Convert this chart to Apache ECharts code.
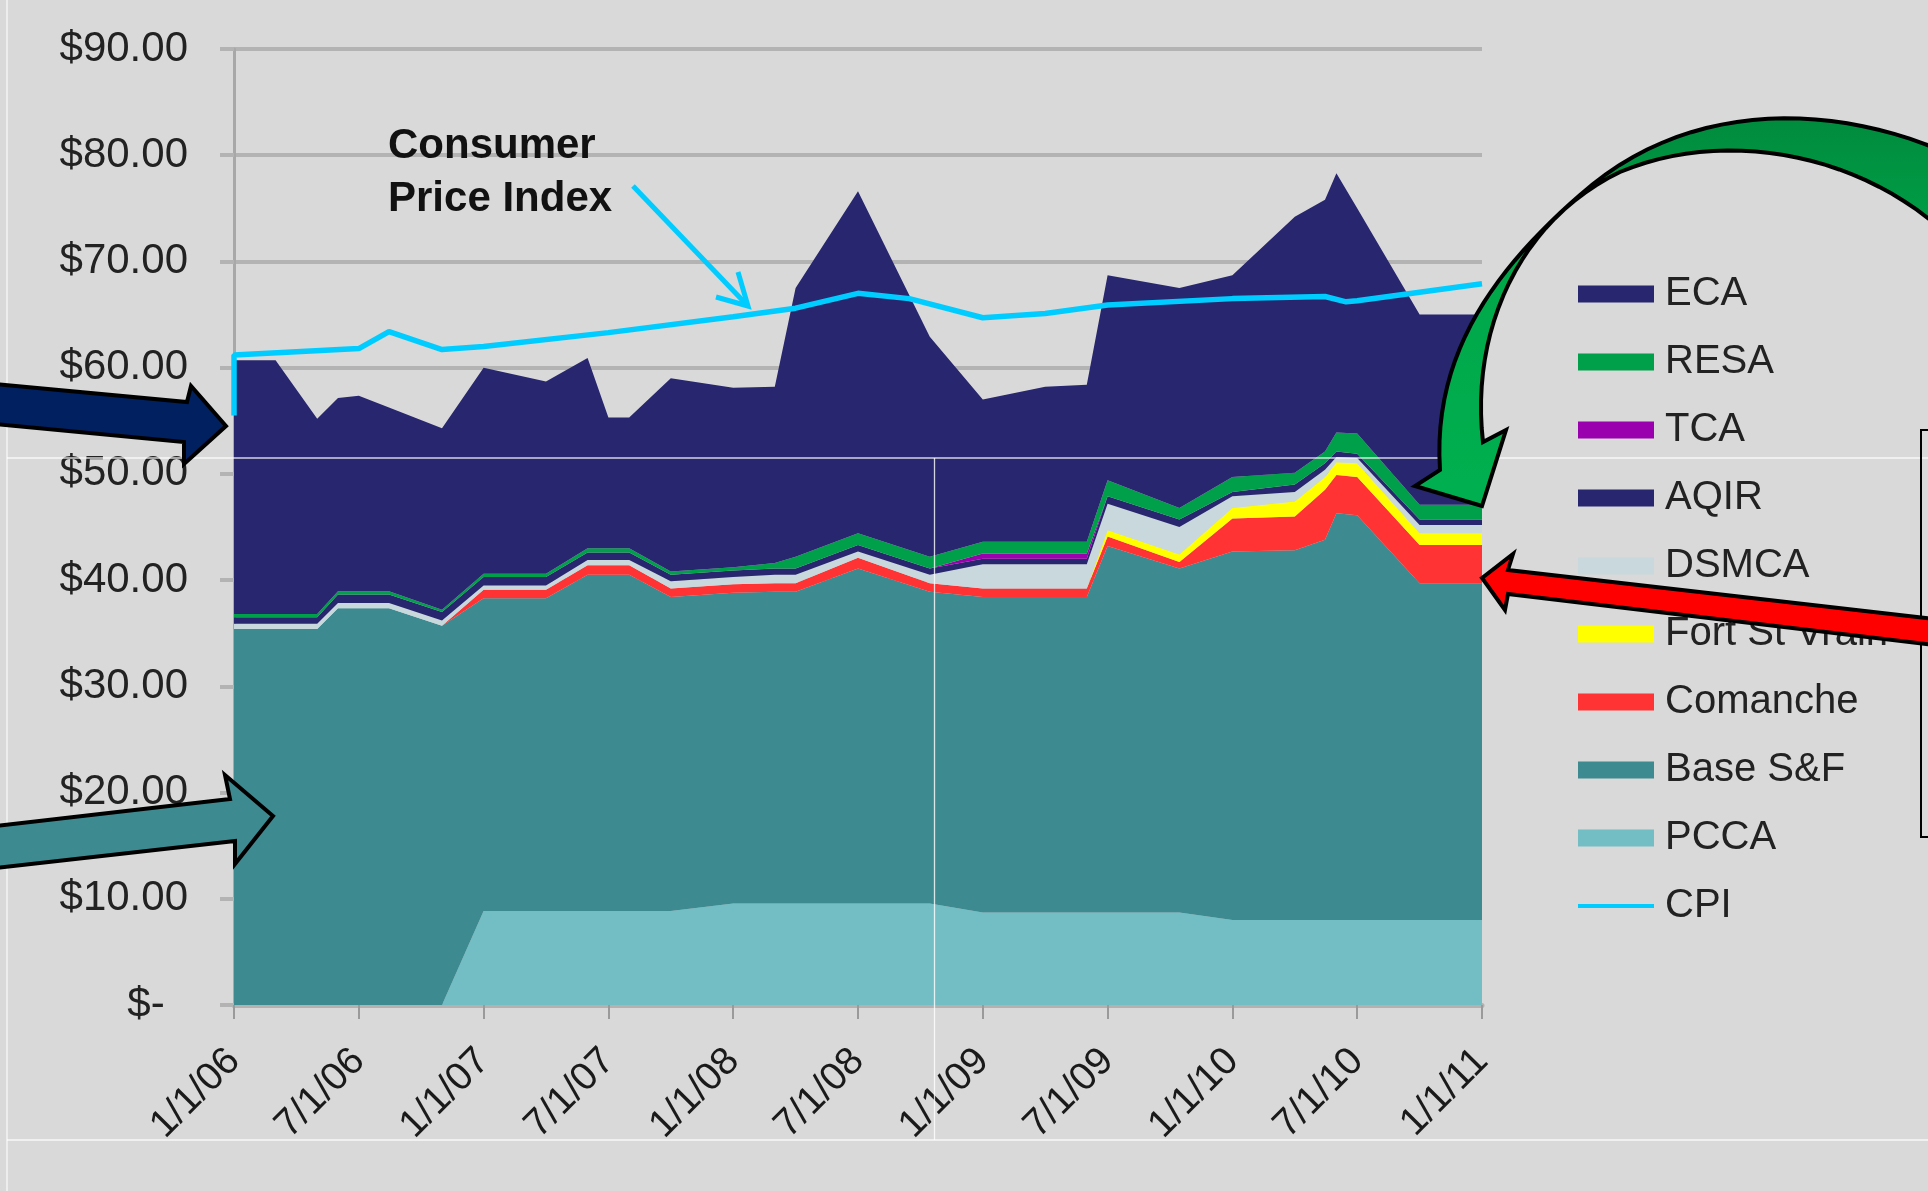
<!DOCTYPE html>
<html>
<head>
<meta charset="utf-8">
<script src="https://cdn.jsdelivr.net/npm/echarts@6/dist/echarts.min.js"></script>
<style>
html,body{margin:0;padding:0;background:#D9D9D9;}
#chart{width:1928px;height:1191px;}
</style>
</head>
<body>
<div id="chart"></div>
<script>
// ---------- DATA ----------
const dates = ['2006-01-01','2006-03-01','2006-05-01','2006-06-01','2006-07-01','2006-08-15','2006-11-01',
  '2007-01-01','2007-04-01','2007-06-01','2007-07-01','2007-08-01','2007-10-01',
  '2008-01-01','2008-03-01','2008-04-01','2008-07-01','2008-10-15',
  '2009-01-01','2009-04-01','2009-06-01','2009-07-01','2009-10-15',
  '2010-01-01','2010-04-01','2010-05-15','2010-06-01','2010-07-01','2010-10-01','2011-01-01'];

const pcca        = [0,0,0,0,0,0,0, 8.85,8.85,8.85,8.85,8.85,8.85, 9.55,9.55,9.55,9.55,9.55, 8.7,8.7,8.7,8.7,8.7, 8.0,8.0,8.0,8.0,8.0,8.0,8.0];
const baseSF      = [35.4,35.4,35.4,37.35,37.35,37.35,35.7, 29.45,29.45,31.65,31.65,31.65,29.55, 29.25,29.35,29.35,31.55,29.35, 29.7,29.7,29.7,34.5,32.4, 34.7,34.8,35.8,38.3,38.1,31.7,31.7];
const comanche    = [0,0,0,0,0,0,0, 0.8,0.8,0.9,0.9,0.9,0.8, 0.8,0.8,0.8,1.0,0.8, 0.8,0.8,0.8,0.9,0.6, 3.1,3.2,4.7,3.6,3.6,3.6,3.6];
const fortStVrain = [0,0,0,0,0,0,0, 0,0,0,0,0,0, 0,0,0,0,0, 0,0,0,0.6,0.7, 1.0,1.4,1.2,1.2,1.3,1.1,1.1];
const dsmca       = [0.5,0.5,0.5,0.5,0.5,0.5,0.5, 0.4,0.4,0.5,0.5,0.5,0.7, 0.7,0.8,0.8,0.6,0.8, 2.3,2.3,2.3,2.5,2.6, 1.1,0.9,0.7,0.5,0.5,0.8,0.8];
const aqir        = [0.6,0.6,0.6,0.8,0.8,0.8,0.8, 0.8,0.8,0.7,0.7,0.7,0.6, 0.6,0.6,0.6,0.6,0.6, 0.5,0.5,0.5,0.7,0.7, 0.4,0.7,0.6,0.5,0.4,0.5,0.5];
const tca         = [0,0,0,0,0,0,0, 0,0,0,0,0,0, 0,0,0,0,0, 0.5,0.5,0.5,0,0, 0,0,0,0,0,0,0];
const resa        = [0.3,0.3,0.3,0.3,0.3,0.3,0.2, 0.3,0.3,0.4,0.4,0.4,0.3, 0.3,0.5,1.1,1.1,1.1, 1.1,1.1,1.1,1.5,1.1, 1.4,1.1,1.1,1.8,1.9,1.4,1.4];
const eca         = [23.9,23.9,18.4,18.2,18.4,17.3,17.1, 19.4,18.1,17.9,12.3,12.3,18.2, 16.9,16.6,25.3,32.2,20.7, 13.4,14.6,14.8,19.3,20.7, 19.0,24.1,23.7,24.4,21.2,17.9,17.9];

const cpiDates  = ['2006-01-01','2006-01-01','2006-07-01','2006-08-15','2006-11-01','2007-01-01','2007-07-01','2008-01-01','2008-04-01','2008-07-01','2008-09-15','2009-01-01','2009-04-01','2009-07-01','2010-01-01','2010-05-15','2010-06-15','2010-07-01','2011-01-01'];
const cpiValues = [55.5,61.2,61.8,63.4,61.7,62.0,63.3,64.8,65.6,67.0,66.5,64.7,65.1,65.9,66.5,66.7,66.2,66.3,67.9];

const xTickLabels = ['1/1/06','7/1/06','1/1/07','7/1/07','1/1/08','7/1/08','1/1/09','7/1/09','1/1/10','7/1/10','1/1/11'];
const yTickLabels = ['$-  ','$10.00','$20.00','$30.00','$40.00','$50.00','$60.00','$70.00','$80.00','$90.00'];
const legendOrder = ['ECA','RESA','TCA','AQIR','DSMCA','Fort St Vrain','Comanche','Base S&F','PCCA','CPI'];

// ---------- BUILD ----------
const FONT = "'Liberation Sans', Arial, Helvetica, sans-serif";
const colors = {
  'ECA':'#27266F','RESA':'#00A04A','TCA':'#9B00AF','AQIR':'#27266F','DSMCA':'#C8D8DC',
  'Fort St Vrain':'#FFFF00','Comanche':'#FF3333','Base S&F':'#3E8A91','PCCA':'#72BEC4','CPI':'#00CCFF'
};

function monthIndex(s){
  const p = s.split('-').map(Number);
  const dim = new Date(p[0], p[1], 0).getDate();
  return (p[0]-2006)*12 + (p[1]-1) + (p[2]-1)/dim;
}
const xs = dates.map(monthIndex);
// value first, month second: the stack is applied to the first numeric dimension
const stackPairs = vals => vals.map((v,i)=>[v, xs[i]]);

const layers = [
  ['PCCA', pcca], ['Base S&F', baseSF], ['Comanche', comanche], ['Fort St Vrain', fortStVrain],
  ['DSMCA', dsmca], ['AQIR', aqir], ['TCA', tca], ['RESA', resa], ['ECA', eca]
];
const series = layers.map(([name, vals]) => ({
  type:'line', name, stack:'total', data:stackPairs(vals),
  encode:{x:1, y:0},
  symbol:'none', showSymbol:false, silent:true, animation:false,
  color: colors[name],
  lineStyle:{width:0, color:colors[name]},
  itemStyle:{color:colors[name]},
  areaStyle:{color:colors[name], opacity:1}
}));
series.push({
  type:'line', name:'CPI', data:cpiDates.map((d,i)=>[monthIndex(d), cpiValues[i]]),
  symbol:'none', showSymbol:false, silent:true, animation:false, z:3,
  color:colors['CPI'],
  lineStyle:{width:5.5, color:colors['CPI']}
});

function cubic(p0,p1,p2,p3,n){
  const pts=[];
  for(let i=0;i<=n;i++){
    const t=i/n, u=1-t;
    pts.push([u*u*u*p0[0]+3*u*u*t*p1[0]+3*u*t*t*p2[0]+t*t*t*p3[0],
              u*u*u*p0[1]+3*u*u*t*p1[1]+3*u*t*t*p2[1]+t*t*t*p3[1]]);
  }
  return pts;
}
const greenPts = [].concat(
  cubic([1940,150],[1820,100],[1680,105],[1580,195],24),
  cubic([1580,195],[1500,265],[1432,350],[1440,470],24).slice(1),
  [[1415,486],[1482,506],[1506,430]],
  cubic([1483,442],[1470,330],[1520,220],[1620,172],24),
  cubic([1620,172],[1720,130],[1850,150],[1940,228],24).slice(1)
);

const artifact = {stroke:'#FFFFFF', lineWidth:1.3, opacity:0.8};

const option = {
  backgroundColor:'#D9D9D9',
  animation:false,
  grid:{left:234, right:446, top:49, bottom:186, containLabel:false, outerBoundsMode:'none'},
  legend:{
    orient:'vertical', left:1578, top:274, padding:0,
    itemWidth:76, itemHeight:17, itemGap:28, selectedMode:false,
    textStyle:{fontFamily:FONT, fontSize:40, color:'#222222', lineHeight:40, padding:[0,0,0,6]},
    data: legendOrder.map(n => ({
      name:n,
      icon: n==='CPI' ? 'path://M0 0H20V1H0Z' : 'rect',
      itemStyle:{color:colors[n], borderWidth:0}
    }))
  },
  xAxis:{
    type:'value', min:0, max:60, interval:6,
    axisLine:{show:true, onZero:false, lineStyle:{color:'#B5B1B1', width:5}},
    axisTick:{show:true, length:14, lineStyle:{color:'#9A9A9A', width:2}},
    splitLine:{show:false},
    axisLabel:{rotate:45, margin:50, fontSize:39, fontFamily:FONT, color:'#1A1A1A',
      formatter: v => xTickLabels[Math.round(v/6)]}
  },
  yAxis:{
    type:'value', min:0, max:90, interval:10,
    axisLine:{show:true, lineStyle:{color:'#A8A8A8', width:3}},
    axisTick:{show:true, length:14, lineStyle:{color:'#B3B3B3', width:4}},
    splitLine:{show:true, lineStyle:{color:'#B3B3B3', width:4}},
    axisLabel:{margin:46, fontSize:42, fontFamily:FONT, color:'#222222',
      formatter: v => yTickLabels[Math.round(v/10)]}
  },
  series,
  graphic:[
    {type:'line', silent:true, z:50, shape:{x1:7,y1:0,x2:7,y2:1191}, style:artifact},
    {type:'line', silent:true, z:50, shape:{x1:7,y1:458,x2:1928,y2:458}, style:artifact},
    {type:'line', silent:true, z:50, shape:{x1:934.5,y1:458,x2:934.5,y2:1140}, style:artifact},
    {type:'line', silent:true, z:50, shape:{x1:7,y1:1140,x2:1928,y2:1140}, style:artifact},
    {type:'polyline', silent:true, z:60, shape:{points:[[1940,430],[1921,430],[1921,837],[1940,837]]},
      style:{stroke:'#000', lineWidth:2, fill:null}},
    {type:'text', silent:true, z:100, x:388, y:146,
      style:{text:'Consumer', fontFamily:FONT, fontWeight:'bold', fontSize:42, fill:'#111', verticalAlign:'middle'}},
    {type:'text', silent:true, z:100, x:388, y:199,
      style:{text:'Price Index', fontFamily:FONT, fontWeight:'bold', fontSize:42, fill:'#111', verticalAlign:'middle'}},
    {type:'polyline', silent:true, z:100, shape:{points:[[633,186],[747,305]]},
      style:{stroke:'#00CCFF', lineWidth:5, fill:null}},
    {type:'polyline', silent:true, z:100, shape:{points:[[738,272],[748,306],[716,297]]},
      style:{stroke:'#00CCFF', lineWidth:5, fill:null, lineJoin:'miter'}},
    {type:'polygon', silent:true, z:100,
      shape:{points:[[-5,384],[187,402],[191,386],[226,426],[184,464],[184,442],[-5,424]]},
      style:{fill:'#002060', stroke:'#000', lineWidth:4, lineJoin:'miter'}},
    {type:'polygon', silent:true, z:100,
      shape:{points:[[-5,826],[230,799],[225,775],[273,816],[235,864],[235,841],[-5,868]]},
      style:{fill:'#3E8A91', stroke:'#000', lineWidth:4, lineJoin:'miter'}},
    {type:'polygon', silent:true, z:100,
      shape:{points:[[1482,578],[1513,554],[1508,570],[1935,619],[1935,645],[1508,594],[1505,610]]},
      style:{fill:'#FF0000', stroke:'#000', lineWidth:4, lineJoin:'miter'}},
    {type:'polygon', silent:true, z:100,
      shape:{points:greenPts},
      style:{fill:{type:'linear', x:0, y:100, x2:0, y2:510, global:true,
        colorStops:[{offset:0,color:'#00883C'},{offset:0.45,color:'#00A84A'},{offset:1,color:'#00B050'}]},
        stroke:'#000', lineWidth:4, lineJoin:'miter'}}
  ]
};

const chart = echarts.init(document.getElementById('chart'), null, {renderer:'canvas'});
chart.setOption(option);
</script>
</body>
</html>
